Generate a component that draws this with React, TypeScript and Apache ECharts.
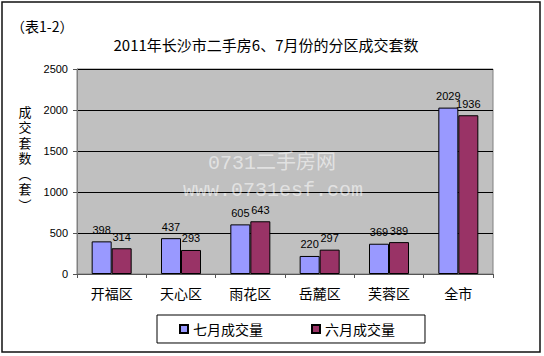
import React, { useEffect, useRef } from "react";
import * as echarts from "echarts";

const categories = ["开福区", "天心区", "雨花区", "岳麓区", "芙蓉区", "全市"];
const julyValues = [398, 437, 605, 220, 369, 2029];
const juneValues = [314, 293, 643, 297, 389, 1936];
const seriesNames = ["七月成交量", "六月成交量"];
const titleText = "2011年长沙市二手房6、7月份的分区成交套数";
const tableTag = "（表1-2）";
const yName = ["成", "交", "套", "数", "︵", "套", "︶"];

export default function App() {
  const ref = useRef<HTMLDivElement>(null);
  useEffect(() => {
    if (!ref.current) return;
    const chart = echarts.init(ref.current, null, { renderer: "svg" });
    const fontCn = '"Noto Sans CJK SC", "Noto Sans", sans-serif';
    const labelCommon = {
      show: true,
      position: "top" as const,
      distance: 6,
      color: "#000",
      fontSize: 11,
      fontFamily: '"Liberation Sans", Arial, sans-serif',
    };
    const yNameTexts = yName.map((ch, i) => ({
      type: "text",
      x: 25,
      y: 112 + i * 15.5,
      style: {
        text: ch,
        fontSize: 13,
        fill: "#000",
        fontFamily: '"Liberation Sans", "Noto Sans CJK SC", sans-serif',
        textAlign: "center",
        textVerticalAlign: "middle",
      },
    }));
    chart.setOption({
      animation: false,
      backgroundColor: "#fff",
      textStyle: { fontFamily: fontCn },
      grid: {
        left: 77,
        top: 69,
        width: 416,
        height: 205,
        show: true,
        backgroundColor: "#c0c0c0",
        borderColor: "#808080",
        borderWidth: 1,
      },
      legend: {
        data: seriesNames,
        left: 157,
        top: 315,
        width: 263,
        padding: [7, 30, 7, 22],
        itemGap: 48,
        itemWidth: 8,
        itemHeight: 8,
        borderColor: "#000",
        borderWidth: 1,
        textStyle: { fontSize: 14, color: "#000", fontFamily: fontCn },
        icon: "rect",
      },
      xAxis: {
        type: "category",
        data: categories,
        axisLine: { lineStyle: { color: "#555" } },
        axisTick: { show: true, length: 4, lineStyle: { color: "#555" } },
        axisLabel: { color: "#000", fontSize: 14, margin: 12, fontFamily: fontCn },
      },
      yAxis: {
        type: "value",
        min: 0,
        max: 2500,
        interval: 500,
        axisLine: { show: true, lineStyle: { color: "#808080" } },
        axisTick: { show: true, length: 4, lineStyle: { color: "#555" } },
        axisLabel: {
          color: "#000",
          fontSize: 11,
          margin: 9,
          formatter: (v: number) => String(v),
          fontFamily: '"Liberation Sans", Arial, sans-serif',
        },
        splitLine: { lineStyle: { color: "#000", width: 1 } },
      },
      series: [
        {
          name: seriesNames[0],
          type: "bar",
          data: julyValues,
          barWidth: 20,
          barGap: "0%",
          itemStyle: { color: "#9999ff", borderColor: "#000", borderWidth: 1 },
          label: labelCommon,
        },
        {
          name: seriesNames[1],
          type: "bar",
          data: juneValues,
          barWidth: 20,
          itemStyle: { color: "#993366", borderColor: "#000", borderWidth: 1 },
          label: labelCommon,
        },
      ],
      graphic: [
        {
          type: "rect",
          shape: { x: 2, y: 2, width: 538, height: 350 },
          style: { fill: "none", stroke: "#111", lineWidth: 1.5 },
          silent: true,
          z: 100,
        },
        {
          type: "text",
          x: 11,
          y: 19,
          style: {
            text: tableTag,
            fontSize: 14,
            fill: "#000",
            fontFamily: fontCn,
          },
        },
        {
          type: "text",
          x: 266,
          y: 44,
          style: {
            text: titleText,
            fontSize: 15,
            fill: "#000",
            fontFamily: fontCn,
            textAlign: "center",
            textVerticalAlign: "middle",
          },
        },
        ...yNameTexts,
        {
          type: "text",
          x: 272,
          y: 163,
          z: 50,
          style: {
            text: "0731二手房网",
            fontSize: 20,
            fill: "rgba(255,255,255,0.55)",
            fontFamily: '"Liberation Mono", "Noto Sans CJK SC", monospace',
            textAlign: "center",
            textVerticalAlign: "middle",
          },
        },
        {
          type: "text",
          x: 273,
          y: 190,
          z: 50,
          style: {
            text: "www.0731esf.com",
            fontSize: 20,
            fill: "rgba(255,255,255,0.55)",
            fontFamily: '"Liberation Mono", monospace',
            textAlign: "center",
            textVerticalAlign: "middle",
          },
        },
      ],
    });
    return () => chart.dispose();
  }, []);
  return (
    <div
      ref={ref}
      style={{ position: "fixed", left: 0, top: 0, width: 544, height: 356 }}
    />
  );
}
